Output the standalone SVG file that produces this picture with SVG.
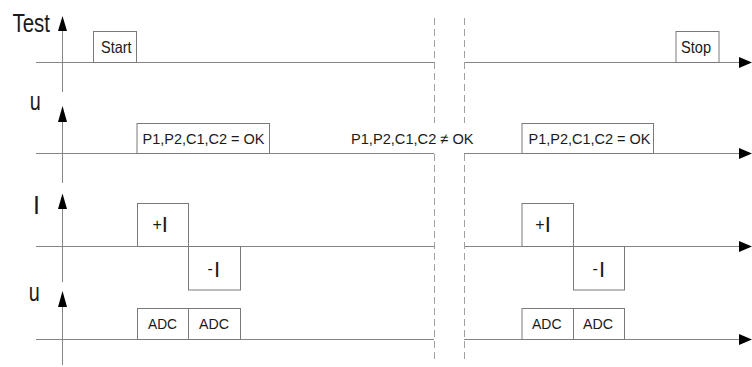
<svg xmlns="http://www.w3.org/2000/svg" width="752" height="367" viewBox="0 0 752 367">
  <style>
    .axis { stroke: #858585; stroke-width: 1; fill: none; }
    .sep { stroke: #a0a0a0; stroke-width: 1; stroke-dasharray: 7 4; fill: none; }
    .box { stroke: #7a7a7a; stroke-width: 1; fill: #ffffff; }
    .lbl { font-family: "Liberation Sans", Arial, sans-serif; fill: #1a1a1a; }
    .big { font-size: 25px; }
    .mid { font-size: 16.5px; }
    .txt { font-size: 15.4px; }
    .head { fill: #000000; }
  </style>

  <!-- axes and time lines -->
  <g id="connectors">
    <!-- vertical axes -->
    <line class="axis" x1="62.5" y1="30" x2="62.5" y2="92"/>
    <line class="axis" x1="62.5" y1="121" x2="62.5" y2="183"/>
    <line class="axis" x1="62.5" y1="208" x2="62.5" y2="282"/>
    <line class="axis" x1="62.5" y1="306" x2="62.5" y2="365"/>
    <polygon class="head" points="62.5,16 58,31 67,31"/>
    <polygon class="head" points="62.5,106 58,122 67,122"/>
    <polygon class="head" points="62.5,193.5 58,209 67,209"/>
    <polygon class="head" points="62.5,291 58,307 67,307"/>

    <!-- time lines, left part -->
    <line class="axis" x1="36" y1="62.5" x2="434" y2="62.5"/>
    <line class="axis" x1="36" y1="153.5" x2="434" y2="153.5"/>
    <line class="axis" x1="36" y1="246.5" x2="434" y2="246.5"/>
    <line class="axis" x1="36" y1="339.5" x2="434" y2="339.5"/>

    <!-- time lines, right part -->
    <line class="axis" x1="464" y1="62.5" x2="740" y2="62.5"/>
    <line class="axis" x1="464" y1="153.5" x2="740" y2="153.5"/>
    <line class="axis" x1="464" y1="246.5" x2="740" y2="246.5"/>
    <line class="axis" x1="464" y1="339.5" x2="740" y2="339.5"/>
    <polygon class="head" points="752,62.5 739,57 739,68"/>
    <polygon class="head" points="752,153.5 739,148 739,159"/>
    <polygon class="head" points="752,246.5 739,241 739,252"/>
    <polygon class="head" points="752,339.5 739,334 739,345"/>

    <!-- time break, interrupted by the failed-check label -->
    <line class="sep" x1="434.5" y1="18" x2="434.5" y2="123"/>
    <line class="sep" x1="434.5" y1="154" x2="434.5" y2="362"/>
    <line class="sep" x1="464.5" y1="18" x2="464.5" y2="123"/>
    <line class="sep" x1="464.5" y1="154" x2="464.5" y2="362"/>
  </g>

  <!-- axis labels -->
  <g id="axis-labels">
    <text class="lbl big" x="12.5" y="32" textLength="37.5" lengthAdjust="spacingAndGlyphs">Test</text>
    <text class="lbl big" x="29.7" y="110" textLength="11" lengthAdjust="spacingAndGlyphs">u</text>
    <text class="lbl big" x="33" y="214.3">I</text>
    <text class="lbl big" x="28.7" y="301" textLength="11" lengthAdjust="spacingAndGlyphs">u</text>
  </g>

  <!-- test phase -->
  <g id="start">
    <rect class="box" x="93.5" y="31.5" width="43" height="31"/>
    <text class="lbl mid" x="101" y="52.7" textLength="30.5" lengthAdjust="spacingAndGlyphs">Start</text>
  </g>
  <g id="stop">
    <rect class="box" x="676" y="31.5" width="43" height="31"/>
    <text class="lbl mid" x="681" y="52.7" textLength="30" lengthAdjust="spacingAndGlyphs">Stop</text>
  </g>

  <!-- voltage check -->
  <g id="check-ok-1">
    <rect class="box" x="137" y="123.5" width="132.5" height="30"/>
    <text class="lbl txt" x="142.5" y="144.3" textLength="122" lengthAdjust="spacingAndGlyphs">P1,P2,C1,C2 = OK</text>
  </g>
  <g id="check-fail">
    <text class="lbl txt" x="351" y="144.3" textLength="122.5" lengthAdjust="spacingAndGlyphs">P1,P2,C1,C2 ≠ OK</text>
  </g>
  <g id="check-ok-2">
    <rect class="box" x="522" y="123.5" width="131.5" height="30"/>
    <text class="lbl txt" x="528.5" y="144.3" textLength="122" lengthAdjust="spacingAndGlyphs">P1,P2,C1,C2 = OK</text>
  </g>

  <!-- current pulses -->
  <g id="pulse-pos-1">
    <rect class="box" x="137.5" y="203.5" width="51" height="43"/>
    <text class="lbl" x="152.5" y="231.5"><tspan font-size="16" dy="-2">+</tspan><tspan font-size="22" dy="2">I</tspan></text>
  </g>
  <g id="pulse-neg-1">
    <rect class="box" x="188.5" y="246.5" width="52" height="43.5"/>
    <text class="lbl" x="207.6" y="277"><tspan font-size="16" dy="-3">-</tspan><tspan font-size="22" dy="3" dx="1">I</tspan></text>
  </g>
  <g id="pulse-pos-2">
    <rect class="box" x="522" y="203.5" width="51.5" height="43"/>
    <text class="lbl" x="535.3" y="231.5"><tspan font-size="16" dy="-2">+</tspan><tspan font-size="22" dy="2">I</tspan></text>
  </g>
  <g id="pulse-neg-2">
    <rect class="box" x="573.5" y="246.5" width="51" height="43.5"/>
    <text class="lbl" x="592.6" y="277"><tspan font-size="16" dy="-3">-</tspan><tspan font-size="22" dy="3" dx="1">I</tspan></text>
  </g>

  <!-- ADC samples -->
  <g id="adc-1">
    <rect class="box" x="137.5" y="308.5" width="51" height="31"/>
    <text class="lbl txt" x="148" y="329.3" textLength="29" lengthAdjust="spacingAndGlyphs">ADC</text>
  </g>
  <g id="adc-2">
    <rect class="box" x="188.5" y="308.5" width="52" height="31"/>
    <text class="lbl txt" x="199" y="329.3" textLength="30" lengthAdjust="spacingAndGlyphs">ADC</text>
  </g>
  <g id="adc-3">
    <rect class="box" x="522" y="308.5" width="51.5" height="31"/>
    <text class="lbl txt" x="532" y="329.3" textLength="29.5" lengthAdjust="spacingAndGlyphs">ADC</text>
  </g>
  <g id="adc-4">
    <rect class="box" x="573.5" y="308.5" width="51" height="31"/>
    <text class="lbl txt" x="583" y="329.3" textLength="30" lengthAdjust="spacingAndGlyphs">ADC</text>
  </g>
</svg>
